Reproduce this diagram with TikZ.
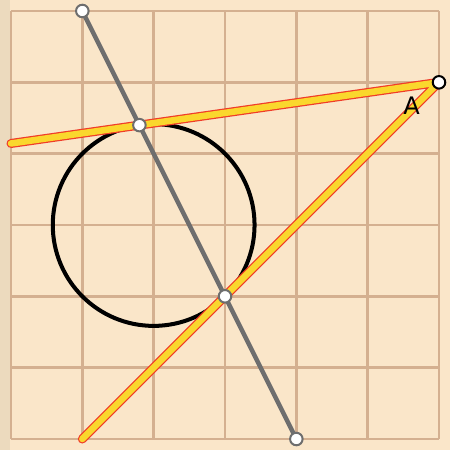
\documentclass[tikz,border=0pt]{standalone}
\usepackage{fontspec}
\setsansfont{DejaVu Sans}
\definecolor{paperbg}{RGB}{250,230,201}
\definecolor{paperedge}{RGB}{236,218,190}
\definecolor{gridtan}{RGB}{212,176,144}
\definecolor{tangentred}{RGB}{240,60,40}
\definecolor{tangentyellow}{RGB}{250,215,45}
\definecolor{polargray}{RGB}{110,110,110}
\tikzset{
  sketch grid/.style={draw=gridtan,line width=1.15pt},
  sketch rim/.style={draw=tangentred,line width=3.6pt,line cap=round,line join=round},
  sketch tangent/.style={draw=tangentyellow,line width=2.6pt,line cap=round,line join=round},
  sketch polar/.style={draw=polargray,line width=1.8pt},
  sketch circle/.style={draw=black,line width=1.6pt},
  sketch point/.style={circle,fill=white,draw=polargray,line width=0.8pt,inner sep=0pt,minimum size=5pt},
  sketch apex/.style={circle,fill=white,draw=black,line width=0.8pt,inner sep=0pt,minimum size=5pt}
}

\begin{document}
\begin{tikzpicture}[x=1cm,y=1cm,font=\sffamily]
    \useasboundingbox (-0.154,-0.154) rectangle (6.154,6.154);
    \fill[paperbg] (-0.154,-0.154) rectangle (6.154,6.154);
    \fill[paperedge] (-0.154,-0.154) rectangle (-0.01,6.154);
    \draw[sketch grid] (0,0) grid (6,6);
    \coordinate (C) at (2,3);
    \coordinate (A) at (6,5);
    \coordinate (L) at (0,{29/7});
    \coordinate (B) at (1,0);
    \coordinate (P) at (1.8,4.4);
    \coordinate (Q) at (3,2);
    \coordinate (U) at (1,6);
    \coordinate (V) at (4,0);
    \draw[sketch circle] (C) circle ({sqrt(2)});
    % the two tangents from A
    \draw[sketch rim] (L)--(A)--(B);
    \draw[sketch tangent] (L)--(A)--(B);
    \draw[sketch polar] (U)--(V);
    \node[sketch point] (u) at (U) {};
    \node[sketch point] (v) at (V) {};
    \node[sketch point] (p) at (P) {};
    \node[sketch point] (q) at (Q) {};
    \node[sketch apex] (a) at (A) {};
    \node[font=\sffamily\fontsize{9.6}{11}\selectfont] (alabel) at (5.615,4.67) {A};
  \end{tikzpicture}
\end{document}
